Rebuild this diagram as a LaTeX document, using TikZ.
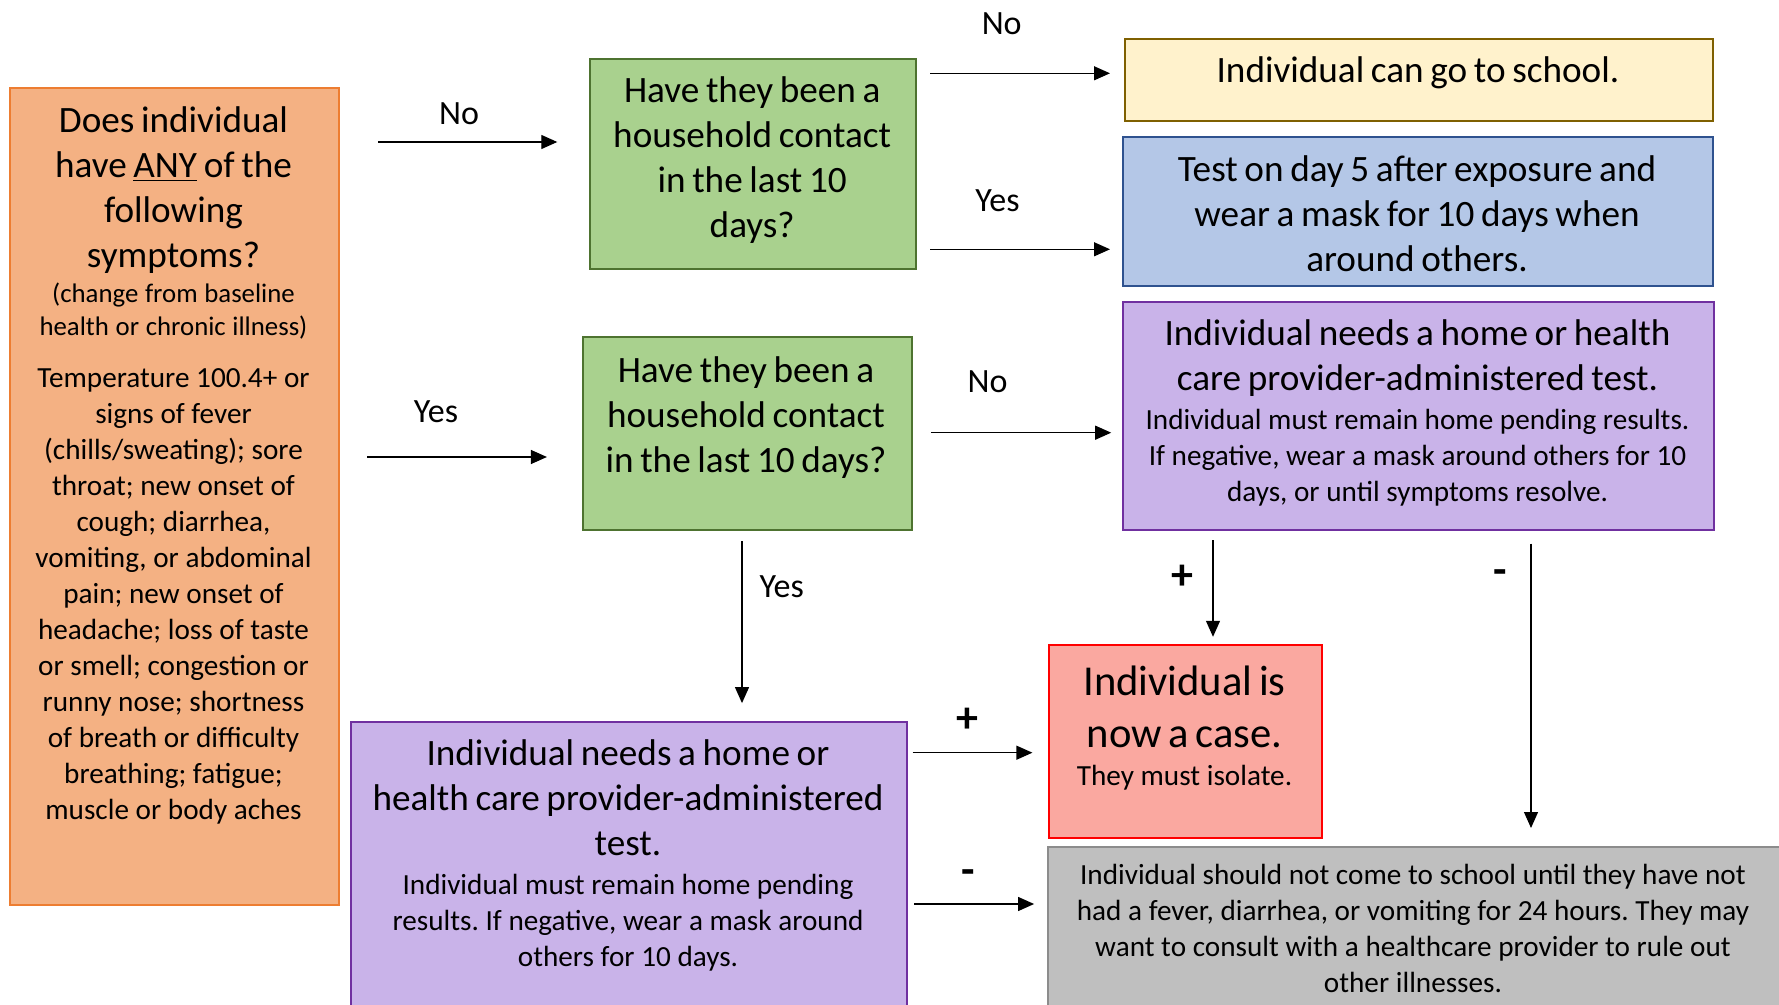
\documentclass[tikz,border=0pt]{standalone}
\usepackage{fontspec}
\setmainfont{Carlito}
\usetikzlibrary{arrows.meta}
\frenchspacing

\definecolor{symfill}{HTML}{F4B183}
\definecolor{symline}{HTML}{ED7D31}
\definecolor{hhfill}{HTML}{A9D18E}
\definecolor{hhline}{HTML}{4E7330}
\definecolor{schoolfill}{HTML}{FFF2CC}
\definecolor{schoolline}{HTML}{7F6000}
\definecolor{maskfill}{HTML}{B4C7E7}
\definecolor{maskline}{HTML}{2F528F}
\definecolor{testfill}{HTML}{C9B3E9}
\definecolor{testline}{HTML}{7030A0}
\definecolor{casefill}{HTML}{FAA8A0}
\definecolor{caseline}{HTML}{FF0000}
\definecolor{homefill}{HTML}{BFBFBF}
\definecolor{homeline}{HTML}{8C8C8C}

\newcommand{\headfont}{\fontsize{18.6}{22.5}\selectfont}
\newcommand{\notefont}{\fontsize{13.4}{16.5}\selectfont}
\newcommand{\listfont}{\fontsize{14.6}{18}\selectfont}
\newcommand{\casefont}{\fontsize{21.3}{26}\selectfont}
\newcommand{\lblfont}{\fontsize{17}{20}\selectfont}

\tikzset{
  box/.style={rectangle, anchor=north west, inner sep=0pt, line width=1pt},
  txt/.style={anchor=base, align=center, inner sep=0pt},
  lbl/.style={anchor=base, inner sep=0pt, font=\lblfont},
  signlbl/.style={anchor=base, inner sep=0pt, font=\fontsize{22}{26}\selectfont\bfseries},
  arr/.style={line width=0.6pt, -{Triangle[length=8pt,width=7pt]}}
}

\begin{document}
\begin{tikzpicture}[x=0.5pt,y=-0.5pt]
\useasboundingbox (0,0) rectangle (1779,1005);

% boxes
\node[box, fill=symfill, draw=symline, minimum width=164.5pt, minimum height=408.5pt] (sym) at (9,87) {};
\node[box, fill=hhfill, draw=hhline, minimum width=162.9pt, minimum height=105pt] (hh1) at (589.3,58.3) {};
\node[box, fill=hhfill, draw=hhline, minimum width=164.5pt, minimum height=96.7pt] (hh2) at (581.7,336) {};
\node[box, fill=schoolfill, draw=schoolline, minimum width=294.2pt, minimum height=41.2pt] (school) at (1123.8,37.7) {};
\node[box, fill=maskfill, draw=maskline, minimum width=295.1pt, minimum height=74.5pt] (mask) at (1122,136) {};
\node[box, fill=testfill, draw=testline, minimum width=295.5pt, minimum height=114pt] (test1) at (1122,301) {};
\node[box, fill=testfill, draw=testline, minimum width=278pt, minimum height=170pt] (test2) at (350,720.7) {};
\node[box, fill=casefill, draw=caseline, minimum width=136.5pt, minimum height=96.7pt] (case) at (1048,644) {};
\node[box, fill=homefill, draw=homeline, minimum width=367.7pt, minimum height=107pt] (home) at (1046.7,846) {};

% texts
\node[txt, text width=164pt] (symtxt) at (173.5,133)
  {\headfont Does individual\\ have \underline{ANY} of the\\ following\\ symptoms?\par
   \vspace{1pt}\notefont (change from baseline\\ health or chronic illness)\par
   \vspace{8pt}\listfont Temperature 100.4+ or\\ signs of fever\\ (chills/sweating); sore\\ throat; new onset of\\
   cough; diarrhea,\\ vomiting, or abdominal\\ pain; new onset of\\ headache; loss of taste\\
   or smell; congestion or\\ runny nose; shortness\\ of breath or difficulty\\ breathing; fatigue;\\
   muscle or body aches\par};
\node[txt, text width=160pt] (hh1txt) at (752.2,103)
  {\headfont Have they been a\\ household contact\\ in the last 10\\ days?\par};
\node[txt, text width=164pt] (hh2txt) at (746,383)
  {\headfont Have they been a\\ household contact\\ in the last 10 days?\par};
\node[txt, text width=290pt] (schooltxt) at (1418,82.7)
  {\headfont Individual can go to school.\par};
\node[txt, text width=290pt] (masktxt) at (1417,181.5)
  {\headfont Test on day 5 after exposure and\\ wear a mask for 10 days when\\ around others.\par};
\node[txt, text width=290pt] (test1txt) at (1417.5,345.7)
  {\headfont Individual needs a home or health\\ care provider-administered test.\par
   \vspace{1.2pt}\listfont Individual must remain home pending results.\\
   If negative, wear a mask around others for 10\\ days, or until symptoms resolve.\par};
\node[txt, text width=276pt] (test2txt) at (628,765.5)
  {\headfont Individual needs a home or\\ health care provider-administered\\ test.\par
   \vspace{1.7pt}\listfont Individual must remain home pending\\ results. If negative, wear a mask around\\
   others for 10 days.\par};
\node[txt, text width=134pt] (casetxt) at (1184.5,695)
  {\casefont Individual is\\ now a case.\par
   \vspace{1.5pt}\listfont They must isolate.\par};
\node[txt, text width=366pt] (hometxt) at (1413,884)
  {\listfont Individual should not come to school until they have not\\
   had a fever, diarrhea, or vomiting for 24 hours. They may\\
   want to consult with a healthcare provider to rule out\\ other illnesses.\par};

% arrows
\draw[arr, shorten <=19pt, shorten >=16pt] (sym.east |- 0,142) -- (hh1.west |- 0,142);
\draw[arr, shorten <=13.6pt, shorten >=17.4pt] (sym.east |- 0,457) -- (hh2.west |- 0,457);
\draw[arr, shorten <=6.6pt, shorten >=6.9pt] (hh1.east |- 0,73.3) -- (school.west |- 0,73.3);
\draw[arr, shorten <=6.6pt, shorten >=6pt] (hh1.east |- 0,249.3) -- (mask.west |- 0,249.3);
\draw[arr, shorten <=9.1pt, shorten >=5.4pt] (hh2.east |- 0,432.7) -- (test1.west |- 0,432.7);
\draw[arr, shorten <=5pt, shorten >=8.8pt] (hh2.south -| 742,0) -- (test2.north -| 742,0);
\draw[arr, shorten <=4.6pt, shorten >=3.6pt] (test1.south -| 1213,0) -- (case.north -| 1213,0);
\draw[arr, shorten <=6.3pt, shorten >=9pt] (test1.south -| 1531,0) -- (home.north -| 1531,0);
\draw[arr, shorten <=2.3pt, shorten >=7.8pt] (test2.east |- 0,752.7) -- (case.west |- 0,752.7);
\draw[arr, shorten <=3.1pt, shorten >=6.3pt] (test2.east |- 0,904) -- (home.west |- 0,904);

% labels
\node[lbl] (nosym) at (459,125) {No};
\node[lbl] (yessym) at (436,423) {Yes};
\node[lbl] (nohh1) at (1001.7,35) {No};
\node[lbl] (yeshh1) at (997.5,211.7) {Yes};
\node[lbl] (nohh2) at (987.6,392.3) {No};
\node[lbl] (yeshh2) at (781.7,597) {Yes};
\node[signlbl] (postest1) at (1182.7,589) {+};
\node[signlbl] (negtest1) at (1500.6,585) {-};
\node[signlbl] (postest2) at (967.3,732) {+};
\node[signlbl] (negtest2) at (968.3,884) {-};

\end{tikzpicture}
\end{document}
